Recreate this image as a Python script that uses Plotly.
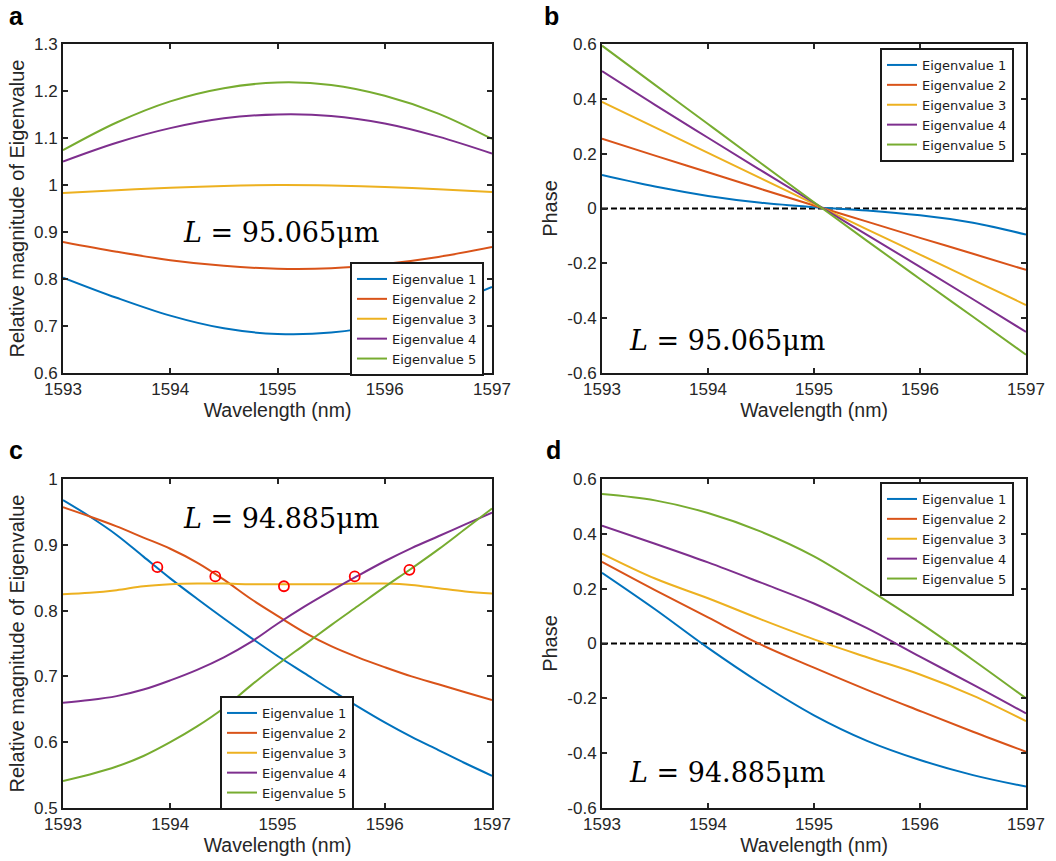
import plotly.graph_objects as go

# ---------------- data ----------------
names = ["Eigenvalue 1", "Eigenvalue 2", "Eigenvalue 3", "Eigenvalue 4", "Eigenvalue 5"]
colors = ["#0072BD", "#D95319", "#EDB120", "#7E2F8E", "#77AC30"]

# panel a: relative magnitude, L = 95.065 um
wl_a = [1593, 1593.5, 1594, 1594.5, 1595, 1595.5, 1596, 1596.5, 1597]
mag_a_1 = [0.803, 0.760, 0.722, 0.695, 0.683, 0.686, 0.704, 0.738, 0.783]
mag_a_2 = [0.879, 0.858, 0.840, 0.828, 0.822, 0.823, 0.832, 0.847, 0.868]
mag_a_3 = [0.983, 0.989, 0.994, 0.998, 1.000, 0.999, 0.996, 0.991, 0.985]
mag_a_4 = [1.050, 1.090, 1.121, 1.142, 1.150, 1.147, 1.131, 1.103, 1.067]
mag_a_5 = [1.074, 1.133, 1.178, 1.206, 1.218, 1.213, 1.190, 1.152, 1.098]

# panel b: phase, L = 95.065 um
wl_b = [1593, 1593.5, 1594, 1594.5, 1595, 1595.5, 1596, 1596.5, 1597]
ph_b_1 = [0.122, 0.080, 0.046, 0.021, 0.005, -0.007, -0.025, -0.052, -0.095]
ph_b_2 = [0.255, 0.193, 0.132, 0.071, 0.011, -0.048, -0.107, -0.165, -0.224]
ph_b_3 = [0.389, 0.296, 0.203, 0.110, 0.017, -0.076, -0.168, -0.260, -0.352]
ph_b_4 = [0.501, 0.378, 0.258, 0.139, 0.021, -0.096, -0.213, -0.331, -0.450]
ph_b_5 = [0.594, 0.451, 0.308, 0.165, 0.023, -0.118, -0.257, -0.395, -0.533]

# panel c: relative magnitude, L = 94.885 um
wl_c = [1593, 1593.25, 1593.5, 1593.75, 1594, 1594.25, 1594.5, 1594.75, 1595,
        1595.25, 1595.5, 1595.75, 1596, 1596.25, 1596.5, 1596.75, 1597]
mag_c_1 = [0.968, 0.943, 0.915, 0.882, 0.849, 0.818, 0.788, 0.759, 0.731,
           0.705, 0.679, 0.654, 0.630, 0.608, 0.588, 0.568, 0.549]
mag_c_2 = [0.957, 0.943, 0.928, 0.911, 0.894, 0.873, 0.847, 0.818, 0.792,
           0.767, 0.746, 0.729, 0.714, 0.700, 0.688, 0.676, 0.664]
mag_c_3 = [0.825, 0.827, 0.831, 0.837, 0.840, 0.841, 0.841, 0.840, 0.840,
           0.840, 0.840, 0.841, 0.841, 0.839, 0.834, 0.829, 0.826]
mag_c_4 = [0.660, 0.664, 0.670, 0.680, 0.694, 0.710, 0.729, 0.752, 0.780,
           0.806, 0.830, 0.853, 0.875, 0.895, 0.913, 0.931, 0.949]
mag_c_5 = [0.541, 0.551, 0.563, 0.579, 0.600, 0.624, 0.652, 0.686, 0.718,
           0.748, 0.778, 0.807, 0.836, 0.864, 0.893, 0.924, 0.955]
mark_wl = [1593.88, 1594.42, 1595.06, 1595.72, 1596.23]
mark_mag = [0.866, 0.852, 0.837, 0.852, 0.862]

# panel d: phase, L = 94.885 um
wl_d = [1593, 1593.5, 1594, 1594.5, 1595, 1595.5, 1596, 1596.5, 1597]
ph_d_1 = [0.258, 0.125, -0.016, -0.146, -0.262, -0.355, -0.425, -0.480, -0.522]
ph_d_2 = [0.298, 0.195, 0.095, -0.004, -0.088, -0.169, -0.246, -0.322, -0.395]
ph_d_3 = [0.328, 0.237, 0.165, 0.088, 0.015, -0.050, -0.113, -0.190, -0.283]
ph_d_4 = [0.430, 0.364, 0.296, 0.222, 0.146, 0.056, -0.048, -0.150, -0.255]
ph_d_5 = [0.545, 0.522, 0.476, 0.408, 0.318, 0.200, 0.075, -0.060, -0.200]

zero_wl = [1593, 1597]
zero_val = [0, 0]

x_ticks = [1593, 1594, 1595, 1596, 1597]
x_text = ["1593", "1594", "1595", "1596", "1597"]
ya_ticks = [0.6, 0.7, 0.8, 0.9, 1.0, 1.1, 1.2, 1.3]
ya_text = ["0.6", "0.7", "0.8", "0.9", "1", "1.1", "1.2", "1.3"]
yp_ticks = [-0.6, -0.4, -0.2, 0, 0.2, 0.4, 0.6]
yp_text = ["-0.6", "-0.4", "-0.2", "0", "0.2", "0.4", "0.6"]
yc_ticks = [0.5, 0.6, 0.7, 0.8, 0.9, 1.0]
yc_text = ["0.5", "0.6", "0.7", "0.8", "0.9", "1"]

# ---------------- figure ----------------
W, H = 1056, 861
fig = go.Figure()

panels = [
    ("x", "y", "legend", wl_a, [mag_a_1, mag_a_2, mag_a_3, mag_a_4, mag_a_5]),
    ("x2", "y2", "legend2", wl_b, [ph_b_1, ph_b_2, ph_b_3, ph_b_4, ph_b_5]),
    ("x3", "y3", "legend3", wl_c, [mag_c_1, mag_c_2, mag_c_3, mag_c_4, mag_c_5]),
    ("x4", "y4", "legend4", wl_d, [ph_d_1, ph_d_2, ph_d_3, ph_d_4, ph_d_5]),
]

for xa, ya, lg, xs, series in panels:
    if xa in ("x2", "x4"):
        fig.add_trace(go.Scatter(x=zero_wl, y=zero_val, mode="lines", xaxis=xa, yaxis=ya,
                                 line=dict(color="black", width=2, dash="6px,3px"),
                                 showlegend=False, hoverinfo="skip"))
    for name, col, ys in zip(names, colors, series):
        fig.add_trace(go.Scatter(x=xs, y=ys, mode="lines", name=name, xaxis=xa, yaxis=ya,
                                 legend=lg, line=dict(color=col, width=2, shape="spline", smoothing=1.0)))

fig.add_trace(go.Scatter(x=mark_wl, y=mark_mag, mode="markers", xaxis="x3", yaxis="y3",
                         marker=dict(symbol="circle-open", color="#FF0000", size=10,
                                     line=dict(width=1.8, color="#FF0000")),
                         showlegend=False))

def px_x(p):
    return p / W

def px_y(p):
    return 1 - p / H

font_main = "Liberation Sans, Arial, sans-serif"
tick_col = "#262626"

def xax(dom, anchor):
    return dict(domain=dom, anchor=anchor, range=[1593, 1597], tickvals=x_ticks, ticktext=x_text,
                ticks="inside", ticklen=5, tickwidth=1.5, tickcolor="#262626",
                showline=True, linecolor="#1a1a1a", linewidth=2, mirror="ticks",
                showgrid=False, zeroline=False, automargin=False,
                tickfont=dict(family=font_main, size=17, color=tick_col),
                title=dict(text="Wavelength (nm)", standoff=2,
                           font=dict(family=font_main, size=19.5, color=tick_col)))

def yax(dom, anchor, rng, tv, tt, title):
    return dict(domain=dom, anchor=anchor, range=rng, tickvals=tv, ticktext=tt,
                ticks="inside", ticklen=5, tickwidth=1.5, tickcolor="#262626",
                showline=True, linecolor="#1a1a1a", linewidth=2, mirror="ticks",
                showgrid=False, zeroline=False, automargin=False,
                tickfont=dict(family=font_main, size=17, color=tick_col),
                title=dict(text=title, standoff=4,
                           font=dict(family=font_main, size=20, color=tick_col)))

dxa = [px_x(63), px_x(492)]
dxb = [px_x(602), px_x(1026)]
dy_top = [px_y(373), px_y(44)]
dy_bot = [px_y(808), px_y(479)]

def legend_at(xp, yp):
    return dict(x=px_x(xp), y=px_y(yp), xanchor="left", yanchor="top",
                bgcolor="white", bordercolor="#1a1a1a", borderwidth=2,
                font=dict(family="DejaVu Sans, sans-serif", size=13, color="#1a1a1a"),
                tracegroupgap=0, itemwidth=30)

annotations = []
ann_font = dict(family="DejaVu Serif, serif", size=27, color="black")
for xr, yr, xv, yv, txt in [("x", "y", 1595.03, 0.898, "<i>L</i> = 95.065μm"),
                            ("x2", "y2", 1594.18, -0.48, "<i>L</i> = 95.065μm"),
                            ("x3", "y3", 1595.03, 0.94, "<i>L</i> = 94.885μm"),
                            ("x4", "y4", 1594.18, -0.472, "<i>L</i> = 94.885μm")]:
    annotations.append(dict(x=xv, y=yv, xref=xr, yref=yr, text=txt, showarrow=False,
                            font=ann_font, xanchor="center", yanchor="middle"))

for lab, xp, yp in [("a", 16, 16.5), ("b", 551.5, 16.5), ("c", 16, 449.5), ("d", 553, 449.5)]:
    annotations.append(dict(x=px_x(xp), y=px_y(yp), xref="paper", yref="paper", text="<b>%s</b>" % lab,
                            showarrow=False, xanchor="center", yanchor="middle",
                            font=dict(family=font_main, size=25, color="black")))

fig.update_layout(
    width=W, height=H, autosize=False,
    margin=dict(l=0, r=0, t=0, b=0, pad=0),
    paper_bgcolor="white", plot_bgcolor="white",
    xaxis=xax(dxa, "y"), yaxis=yax(dy_top, "x", [0.6, 1.3], ya_ticks, ya_text, "Relative magnitude of Eigenvalue"),
    xaxis2=xax(dxb, "y2"), yaxis2=yax(dy_top, "x2", [-0.6, 0.6], yp_ticks, yp_text, "Phase"),
    xaxis3=xax(dxa, "y3"), yaxis3=yax(dy_bot, "x3", [0.5, 1.0], yc_ticks, yc_text, "Relative magnitude of Eigenvalue"),
    xaxis4=xax(dxb, "y4"), yaxis4=yax(dy_bot, "x4", [-0.6, 0.6], yp_ticks, yp_text, "Phase"),
    legend=legend_at(350, 262),
    legend2=legend_at(880, 48),
    legend3=legend_at(220, 696),
    legend4=legend_at(880, 482),
    annotations=annotations,
)

fig.write_html("out.html", config={"displayModeBar": False},
               post_script="document.body.style.margin='0px';document.body.style.overflow='hidden';")
